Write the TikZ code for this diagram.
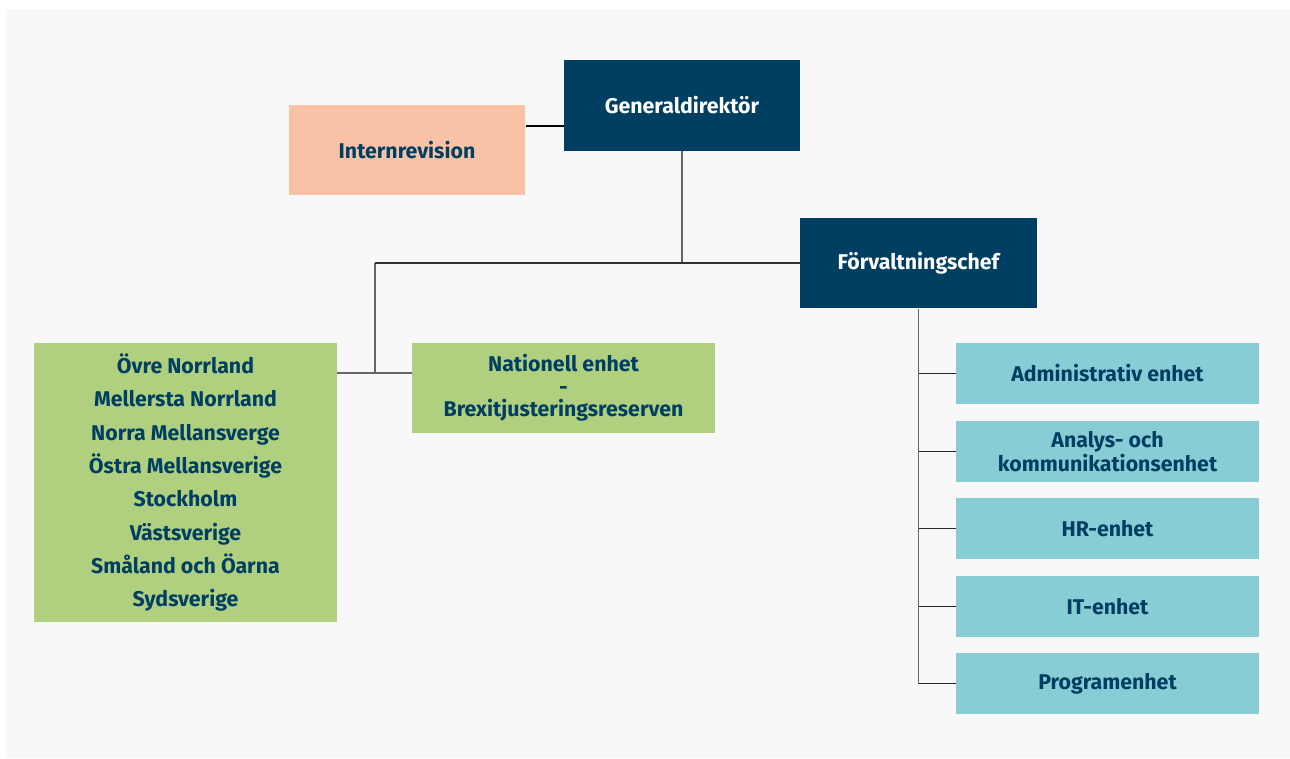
\documentclass[tikz,border=0pt]{standalone}
\usepackage{fontspec}
\setmainfont{Fira Sans}
\usetikzlibrary{calc}
\definecolor{navy}{HTML}{013F62}
\definecolor{peach}{HTML}{F9C2A6}
\definecolor{leaf}{HTML}{B0D080}
\definecolor{teal}{HTML}{88CDD6}
\definecolor{panel}{HTML}{F8F8F8}
\tikzset{
	unit/.style={inner sep=0pt, align=center, font=\fontsize{16}{25}\selectfont\bfseries, text=navy},
	chief/.style={unit, fill=navy, text=white, minimum width=177.5pt, minimum height=68pt},
	audit/.style={unit, fill=peach, minimum width=177.5pt, minimum height=68pt},
	region/.style={unit, fill=leaf, minimum width=227.25pt},
	office/.style={unit, fill=teal, minimum width=227.25pt, minimum height=45.75pt, font=\fontsize{16}{18}\selectfont\bfseries},
	link/.style={line width=0.8pt, color=black!60},
}

\begin{document}
\begin{tikzpicture}[x=0.75pt, y=-0.75pt]
			%%%%% START %%%%%
			
			\fill[white] (0, 0) rectangle (1290, 758);
			\useasboundingbox (0, 0) rectangle (1290, 758);
			\fill[panel] (6, 9) rectangle (1290, 758);
			
			\node[chief] (gd) at (682, 105.5) {Generaldirektör};
			\node[audit] (intrev) at (407, 150) {Internrevision};
			\node[chief] (fchef) at (918.5, 263) {Förvaltningschef};
			
			\node[region, minimum height=209.25pt] (regions) at (185.5, 482.5) {Övre Norrland\\Mellersta Norrland\\Norra Mellansverge\\Östra Mellansverige\\Stockholm\\Västsverige\\Småland och Öarna\\Sydsverige};
			\node[region, minimum height=67.5pt, font=\fontsize{16}{17}\selectfont\bfseries] (natenh) at (563.5, 388) {Nationell enhet\\-\\Brexitjusteringsreserven};
			
			\node[office] (adm) at (1107.5, 373.5) {Administrativ enhet};
			\node[office] (ana) at (1107.5, 451.5) {Analys- och\\kommunikationsenhet};
			\node[office] (hr) at (1107.5, 528.5) {HR-enhet};
			\node[office] (it) at (1107.5, 606.5) {IT-enhet};
			\node[office] (prog) at (1107.5, 683.5) {Programenhet};
			
			\coordinate (audj) at (564, 126);
			\coordinate (topj) at (682, 263);
			\coordinate (leftj) at (375, 263);
			\coordinate (natj) at (375, 373);
			
			\draw[link, color=black] (audj) -- (intrev.east |- audj);
			\draw[link] (gd.south) -- (topj);
			\draw[link] (leftj) -- (natj);
			\draw[link, color=black!80] (leftj) -- (fchef.west);
			\draw[link] (regions.east |- natj) -- (natenh.west |- natj);
			
			\draw[link] (fchef.south) -- (fchef.south |- prog.west);
			\foreach \u in {adm, ana, hr, it, prog}
				\draw[link, color=black!85] (fchef.south |- \u.west) -- (\u.west);
			
			%%%%% END %%%%%
\end{tikzpicture}
\end{document}
